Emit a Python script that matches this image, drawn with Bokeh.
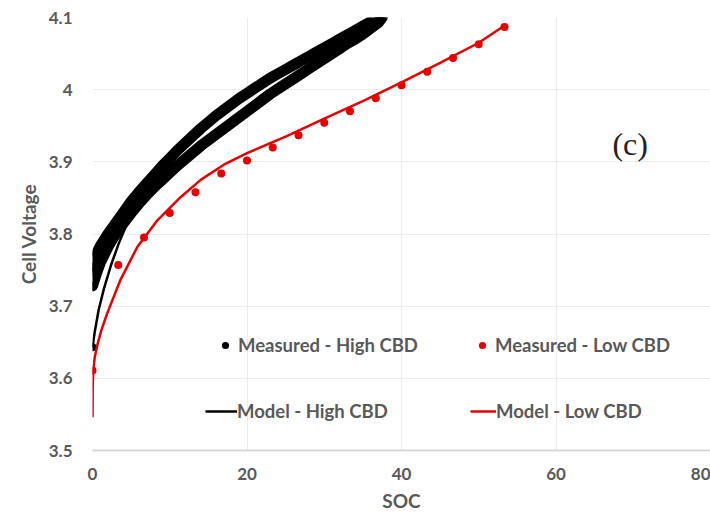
from bokeh.plotting import figure
from bokeh.models import Range1d, FixedTicker, NumeralTickFormatter, Legend, LegendItem, Label
from bokeh.embed import file_html
from bokeh.resources import INLINE

# ---------------- data ----------------
x_ticks = [0, 20, 40, 60, 80]
y_ticks = [3.5, 3.6, 3.7, 3.8, 3.9, 4.0, 4.1]

# Measured - High CBD: two dense branches (upper / lower) + starting point
meas_high_upper_soc = [0, 0.5, 1, 2, 3, 4, 5, 6, 7, 8, 9, 10, 11, 12, 13, 14, 15, 16, 17, 18,
                       19, 20, 21, 22, 23, 24, 25, 26, 27, 28, 29, 30, 31, 32, 33, 34, 35, 36, 37]
meas_high_upper_v = [3.755, 3.772, 3.783, 3.800, 3.815, 3.830, 3.845, 3.858, 3.870, 3.882, 3.894,
                     3.905, 3.916, 3.926, 3.936, 3.946, 3.955, 3.964, 3.972, 3.980, 3.988, 3.995,
                     4.002, 4.009, 4.016, 4.022, 4.028, 4.034, 4.040, 4.046, 4.052, 4.058, 4.064,
                     4.070, 4.076, 4.082, 4.088, 4.094, 4.099]
meas_high_lower_soc = [0, 0.5, 1, 2, 3, 4, 5, 6, 7, 8, 9, 10, 11, 12, 13, 14, 15, 16, 17, 18,
                       19, 20, 21, 22, 23, 24, 25, 26, 27, 28, 29, 30, 31, 32, 33, 34, 35, 36, 37, 37.5]
meas_high_lower_v = [3.728, 3.745, 3.760, 3.782, 3.800, 3.815, 3.829, 3.842, 3.854, 3.865, 3.875,
                     3.885, 3.895, 3.904, 3.913, 3.922, 3.930, 3.938, 3.946, 3.954, 3.962, 3.970,
                     3.978, 3.986, 3.994, 4.001, 4.008, 4.015, 4.022, 4.029, 4.036, 4.043, 4.050,
                     4.057, 4.064, 4.070, 4.077, 4.085, 4.093, 4.100]
meas_high_start_soc = [0]
meas_high_start_v = [3.643]

# Measured - Low CBD
meas_low_soc = [0, 3.33, 6.67, 10, 13.33, 16.67, 20, 23.33, 26.67, 30, 33.33, 36.67,
                40, 43.33, 46.67, 50, 53.33]
meas_low_v = [3.611, 3.757, 3.795, 3.829, 3.858, 3.884, 3.902, 3.920, 3.937, 3.954, 3.970,
              3.988, 4.006, 4.025, 4.044, 4.063, 4.087]

# Model - High CBD
model_high_soc = [0, 0.3, 0.8, 1.5, 2.4, 3.4, 4.3, 5.5, 7, 8, 10, 13, 16, 20, 25, 30, 35, 37.5]
model_high_v = [3.643, 3.665, 3.695, 3.725, 3.757, 3.787, 3.810, 3.836, 3.858, 3.870, 3.891,
                3.918, 3.943, 3.972, 4.008, 4.041, 4.076, 4.100]

# Model - Low CBD
model_low_soc = [0, 0.03, 0.1, 0.3, 0.6, 1.1, 1.9, 3.6, 5.8, 8.4, 11.4, 14, 17, 20, 25, 30,
                 35, 40, 45, 50, 53.5]
model_low_v = [3.546, 3.590, 3.612, 3.630, 3.645, 3.665, 3.690, 3.736, 3.782, 3.819, 3.851,
               3.875, 3.896, 3.912, 3.935, 3.960, 3.984, 4.010, 4.037, 4.065, 4.090]

# ---------------- styles ----------------
RED = "#e60000"
BLACK = "#000000"
GRAY = "#595959"
FONT = "Lato"

p = figure(width=710, height=517, output_backend="svg", toolbar_location=None,
           x_range=Range1d(0, 80), y_range=Range1d(3.5, 4.1),
           min_border_left=92, min_border_right=0, min_border_top=17, min_border_bottom=67)
p.outline_line_color = None
p.background_fill_color = "white"
p.border_fill_color = "white"

p.xaxis.ticker = FixedTicker(ticks=x_ticks)
p.yaxis.ticker = FixedTicker(ticks=y_ticks)
p.yaxis.formatter = NumeralTickFormatter(format="0.[0]")
p.xgrid.ticker = FixedTicker(ticks=x_ticks)
p.ygrid.ticker = FixedTicker(ticks=y_ticks)
p.xgrid.grid_line_color = "#ebebeb"
p.ygrid.grid_line_color = "#ebebeb"

for ax in (p.xaxis[0], p.yaxis[0]):
    ax.major_tick_line_color = None
    ax.minor_tick_line_color = None
    ax.major_tick_out = 0
    ax.major_tick_in = 0
    ax.minor_tick_out = 0
    ax.major_label_text_font = FONT
    ax.major_label_text_font_style = "bold"
    ax.major_label_text_font_size = "17px"
    ax.major_label_text_color = GRAY
    ax.axis_label_text_font = FONT
    ax.axis_label_text_font_style = "bold"
    ax.axis_label_text_font_size = "19px"
    ax.axis_label_text_color = GRAY

p.yaxis.axis_line_color = None
p.xaxis.axis_line_color = "#d9d9d9"
p.xaxis.axis_line_width = 2
p.xaxis.axis_label = "SOC"
p.yaxis.axis_label = "Cell Voltage"
p.xaxis.major_label_standoff = 17
p.yaxis.major_label_standoff = 20
p.xaxis.axis_label_standoff = 6
p.yaxis.axis_label_standoff = 6

# ---------------- glyphs ----------------
# dense measured high-CBD samples: drawn as thick traces joining the dots
p.line(meas_high_upper_soc, meas_high_upper_v, line_color=BLACK, line_width=11,
       line_cap="round", line_join="round")
p.line(meas_high_lower_soc, meas_high_lower_v, line_color=BLACK, line_width=11,
       line_cap="round", line_join="round")
mh_soc = meas_high_upper_soc + meas_high_lower_soc + meas_high_start_soc
mh_v = meas_high_upper_v + meas_high_lower_v + meas_high_start_v
r_mh = p.scatter(mh_soc, mh_v, size=8, color=BLACK, line_width=0)

r_ml_line = p.line(model_low_soc, model_low_v, line_color=RED, line_width=2.5)
r_mh_line = p.line(model_high_soc, model_high_v, line_color=BLACK, line_width=2.5)
r_ml = p.scatter(meas_low_soc, meas_low_v, size=8, color=RED, line_width=0)

# ---------------- legends ----------------
def make_legend(label, renderer, loc, gw, gh, standoff):
    lg = Legend(items=[LegendItem(label=label, renderers=[renderer])],
                location=loc, padding=0, margin=0, spacing=0,
                glyph_width=gw, glyph_height=gh, label_standoff=standoff,
                label_text_font=FONT, label_text_font_style="bold",
                label_text_font_size="18.5px", label_text_color=GRAY,
                border_line_color=None, background_fill_alpha=0)
    p.add_layout(lg, "center")

make_legend("Measured - High CBD", r_mh, (124, 94), 18, 18, 4)
make_legend("Measured - Low CBD", r_ml, (381, 94), 18, 18, 4)
make_legend("Model - High CBD", r_mh_line, (113, 28), 32, 20, 0)
make_legend("Model - Low CBD", r_ml_line, (378, 28), 26, 20, 0)

p.add_layout(Label(x=69.6, y=3.925, text="(c)", text_font="Liberation Serif",
                   text_font_size="32px", text_color="#222222",
                   text_align="center", text_baseline="middle"))

open("out.html", "w").write(file_html(p, INLINE))
